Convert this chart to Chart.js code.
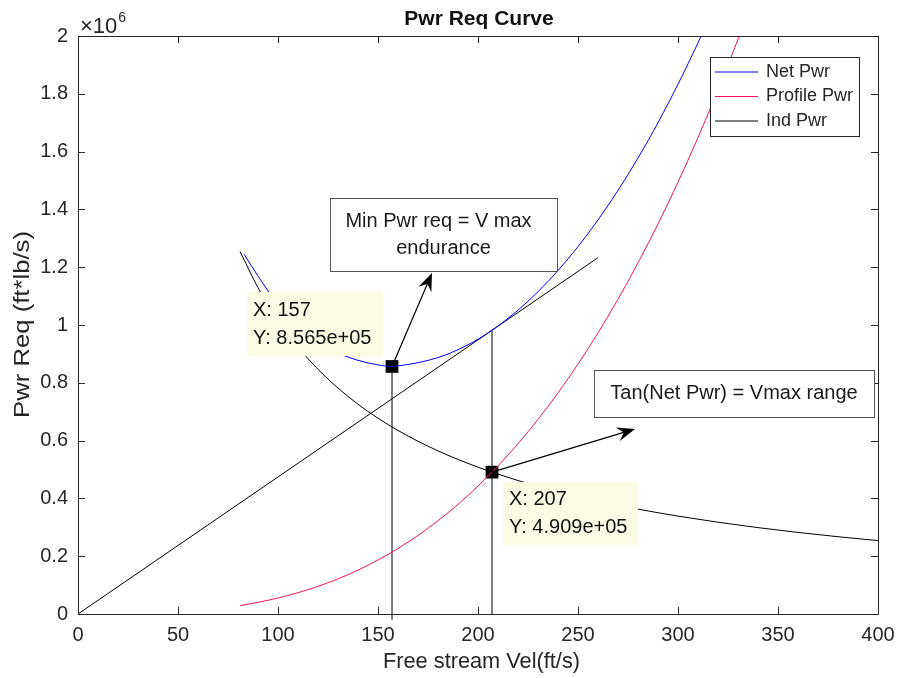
<!DOCTYPE html>
<html><head><meta charset="utf-8">
<script src="https://cdn.jsdelivr.net/npm/chart.js@4.4.0/dist/chart.umd.min.js"></script>
<style>html,body{margin:0;padding:0;background:#fff;}</style>
</head><body>
<canvas id="c" width="899" height="678" style="display:block"></canvas>
<script>
// ---- data ----
const velInd     = [81, 90, 100, 110, 120, 130, 140, 150, 160, 170, 180, 190, 200, 207, 210, 220, 230, 240, 250, 260, 270, 280, 290, 300, 320, 340, 360, 380, 400];
const indPwr     = [1254500, 1129100, 1016200, 923800, 846800, 781700, 725800, 677400, 635100, 597700, 564500, 534800, 508100, 490900, 483900, 461900, 441800, 423400, 406500, 390800, 376400, 362900, 350400, 338700, 317600, 298900, 282300, 267400, 254000];
const velProfile = [81, 90, 100, 110, 120, 130, 140, 150, 160, 170, 180, 190, 200, 207, 210, 220, 230, 240, 250, 260, 270, 280, 290, 300, 310, 320, 330, 340];
const profilePwr = [29400, 40300, 55300, 73700, 95600, 121600, 151900, 186800, 226700, 271900, 322800, 379600, 442800, 490900, 512600, 589300, 673400, 765100, 864800, 972800, 1089400, 1215000, 1349800, 1494300, 1648800, 1813600, 1989000, 2175300];
const velNet     = [83, 90, 100, 110, 120, 130, 140, 150, 157, 160, 170, 180, 190, 200, 207, 210, 220, 230, 240, 250, 260, 270, 280, 290, 300, 310, 320];
const netPwr     = [1245000, 1169400, 1071500, 997400, 942400, 903300, 877700, 862000, 856500, 858500, 869700, 887300, 914400, 950800, 981800, 996400, 1051200, 1115200, 1188500, 1271200, 1363600, 1465700, 1577900, 1700200, 1833100, 1976600, 2131100];
const tanVel     = [0, 260];
const tanPwr     = [0, 1233000];
const markVel    = [157, 207];
const markPwr    = [856500, 490900];
const vline1Vel  = [157, 157];
const vline1Pwr  = [-20000, 856500];
const vline2Vel  = [207, 207];
const vline2Pwr  = [0, 981800];
const xTicks     = [0, 50, 100, 150, 200, 250, 300, 350, 400];
const yTicks     = [0, 0.2, 0.4, 0.6, 0.8, 1, 1.2, 1.4, 1.6, 1.8, 2];
const seriesNames = ['Net Pwr', 'Profile Pwr', 'Ind Pwr'];

// ---- annotations (data units) ----
const textBoxes = [
  {x0: 126, x1: 239.5, y0: 1439000, y1: 1187000, lines: ['Min Pwr req = V max', 'endurance']},
  {x0: 258, x1: 398, y0: 844000, y1: 682000, lines: ['Tan(Net Pwr) = Vmax range']}
];
const dataTips = [
  {x0: 84.5, x1: 152.5, y0: 1114000, y1: 893000, lines: ['X: 157', 'Y: 8.565e+05']},
  {x0: 212.5, x1: 280, y0: 457000, y1: 239000, lines: ['X: 207', 'Y: 4.909e+05']}
];
const arrows = [
  {fx: 157, fy: 856500, tx: 177, ty: 1180000},
  {fx: 207, fy: 490900, tx: 278.5, ty: 640000}
];

const FONT = '"Liberation Sans", Arial, Helvetica, sans-serif';
const AX = '#262626';
const BLUE = 'rgb(0,0,255)';
const RED = 'rgb(235,25,80)';
const BLACK = 'rgb(0,0,0)';

function pts(xs, ys) { return xs.map((x, i) => ({x: x, y: ys[i]})); }

function lineDs(label, xs, ys, color, extra) {
  return Object.assign({
    label: label, data: pts(xs, ys), showLine: true, borderColor: color,
    backgroundColor: color, borderWidth: 1, pointRadius: 0, pointHoverRadius: 0,
    cubicInterpolationMode: 'monotone', fill: false
  }, extra || {});
}

function fitText(ctx, s, x, y, target) {
  const w = ctx.measureText(s).width;
  const k = target / w;
  ctx.save(); ctx.translate(x, y); ctx.scale(k, 1); ctx.fillText(s, 0, 0); ctx.restore();
}

const overlay = {
  id: 'overlay',
  afterDraw(chart) {
    const ctx = chart.ctx, a = chart.chartArea;
    const xs = chart.scales.x, ys = chart.scales.y;
    const px = v => xs.getPixelForValue(v), py = v => ys.getPixelForValue(v);
    ctx.save();
    // frame + inner ticks
    ctx.strokeStyle = AX; ctx.lineWidth = 1;
    ctx.beginPath();
    ctx.rect(Math.round(a.left) + 0.5, Math.round(a.top) + 0.5, Math.round(a.right - a.left), Math.round(a.bottom - a.top));
    const TL = 7;
    xTicks.forEach(t => {
      const x = Math.round(px(t)) + 0.5;
      ctx.moveTo(x, a.bottom); ctx.lineTo(x, a.bottom - TL);
      ctx.moveTo(x, a.top); ctx.lineTo(x, a.top + TL);
    });
    yTicks.forEach(t => {
      const y = Math.round(py(t * 1e6)) + 0.5;
      ctx.moveTo(a.left, y); ctx.lineTo(a.left + TL, y);
      ctx.moveTo(a.right, y); ctx.lineTo(a.right - TL, y);
    });
    ctx.stroke();

    // tick labels
    ctx.fillStyle = AX;
    ctx.font = '20px ' + FONT;
    ctx.textAlign = 'center'; ctx.textBaseline = 'middle';
    xTicks.forEach(t => ctx.fillText(String(t), px(t), a.bottom + 21));
    ctx.textAlign = 'right';
    yTicks.forEach(t => ctx.fillText(String(t), a.left - 10, py(t * 1e6)));

    // title
    ctx.fillStyle = '#111';
    ctx.font = 'bold 21px ' + FONT;
    ctx.textAlign = 'center'; ctx.textBaseline = 'middle';
    ctx.fillText('Pwr Req Curve', (a.left + a.right) / 2 + 1, 19);

    // axis titles
    ctx.fillStyle = AX;
    ctx.font = '22px ' + FONT;
    ctx.textAlign = 'left';
    fitText(ctx, 'Free stream Vel(ft/s)', 383, 662, 197);
    ctx.save();
    ctx.translate(23, 418);
    ctx.rotate(-Math.PI / 2);
    fitText(ctx, 'Pwr Req (ft*lb/s)', 0, 0, 187);
    ctx.restore();

    // exponent label
    ctx.textAlign = 'left'; ctx.textBaseline = 'alphabetic';
    ctx.font = '22px ' + FONT;
    ctx.fillText('\u00d710', a.left + 2, 33);
    const w10 = ctx.measureText('\u00d710').width;
    ctx.font = '14px ' + FONT;
    ctx.fillText('6', a.left + 2 + w10 + 1, 22);

    // text boxes
    textBoxes.forEach(b => {
      const x0 = px(b.x0), x1 = px(b.x1), y0 = py(b.y0), y1 = py(b.y1);
      ctx.fillStyle = '#fff';
      ctx.fillRect(x0, y0, x1 - x0, y1 - y0);
      ctx.strokeStyle = '#555'; ctx.lineWidth = 1;
      ctx.strokeRect(Math.round(x0) + 0.5, Math.round(y0) + 0.5, Math.round(x1 - x0), Math.round(y1 - y0));
      ctx.fillStyle = '#1a1a1a';
      ctx.font = '20px ' + FONT;
      ctx.textAlign = 'center'; ctx.textBaseline = 'middle';
      const lh = 27, n = b.lines.length;
      const cy = (y0 + y1) / 2 - (n - 1) * lh / 2;
      b.lines.forEach((s, i) => ctx.fillText(s, (x0 + x1) / 2 - (n > 1 && i === 0 ? 5 : 0), cy + i * lh));
    });

    // data tips
    dataTips.forEach(b => {
      const x0 = px(b.x0), x1 = px(b.x1), y0 = py(b.y0), y1 = py(b.y1);
      ctx.fillStyle = 'rgb(252,252,228)';
      ctx.fillRect(x0, y0, x1 - x0, y1 - y0);
      ctx.fillStyle = '#111';
      ctx.font = '20px ' + FONT;
      ctx.textAlign = 'left'; ctx.textBaseline = 'middle';
      const lh = 28;
      const cy = (y0 + y1) / 2 - lh / 2;
      b.lines.forEach((s, i) => ctx.fillText(s, x0 + 6, cy + i * lh));
    });

    // arrows
    arrows.forEach(r => {
      const x0 = px(r.fx), y0 = py(r.fy), x1 = px(r.tx), y1 = py(r.ty);
      const dx = x1 - x0, dy = y1 - y0, len = Math.hypot(dx, dy);
      const ux = dx / len, uy = dy / len, nx = -uy, ny = ux;
      const L = 18, W = 7;
      ctx.strokeStyle = '#000'; ctx.lineWidth = 1.2;
      ctx.beginPath(); ctx.moveTo(x0, y0); ctx.lineTo(x1 - ux * L * 0.6, y1 - uy * L * 0.6); ctx.stroke();
      ctx.fillStyle = '#000';
      ctx.beginPath();
      ctx.moveTo(x1, y1);
      ctx.lineTo(x1 - ux * L + nx * W, y1 - uy * L + ny * W);
      ctx.lineTo(x1 - ux * L * 0.65, y1 - uy * L * 0.65);
      ctx.lineTo(x1 - ux * L - nx * W, y1 - uy * L - ny * W);
      ctx.closePath(); ctx.fill();
    });

    // legend
    const lx = 710, ly = 57, lw = 149, lhh = 79;
    ctx.fillStyle = '#fff'; ctx.fillRect(lx, ly, lw, lhh);
    ctx.strokeStyle = AX; ctx.lineWidth = 1;
    ctx.strokeRect(lx + 0.5, ly + 0.5, lw, lhh);
    ctx.font = '18px ' + FONT; ctx.textAlign = 'left'; ctx.textBaseline = 'middle';
    seriesNames.forEach((name, i) => {
      const ds = chart.data.datasets[i];
      const y = ly + 15 + i * 24.5;
      ctx.strokeStyle = ds.borderColor; ctx.lineWidth = 1.2;
      ctx.beginPath(); ctx.moveTo(lx + 5, y); ctx.lineTo(lx + 48, y); ctx.stroke();
      ctx.fillStyle = AX;
      ctx.fillText(name, lx + 56, y);
    });
    ctx.restore();
  }
};

new Chart(document.getElementById('c'), {
  type: 'scatter',
  data: {
    datasets: [
      lineDs(seriesNames[0], velNet, netPwr, BLUE),
      lineDs(seriesNames[1], velProfile, profilePwr, RED),
      lineDs(seriesNames[2], velInd, indPwr, BLACK),
      lineDs('tangent', tanVel, tanPwr, BLACK, {cubicInterpolationMode: 'default', tension: 0}),
      lineDs('v1', vline1Vel, vline1Pwr, BLACK, {cubicInterpolationMode: 'default', tension: 0, clip: false}),
      lineDs('v2', vline2Vel, vline2Pwr, BLACK, {cubicInterpolationMode: 'default', tension: 0}),
      {label: 'markers', data: pts(markVel, markPwr), showLine: false, pointStyle: 'rect',
       pointRadius: 9, pointHoverRadius: 9, backgroundColor: '#000', borderColor: '#000', borderWidth: 0}
    ]
  },
  options: {
    responsive: false, animation: false, devicePixelRatio: 1,
    layout: {padding: {top: 36, right: 21, left: 0, bottom: 0}},
    plugins: {legend: {display: false}, title: {display: false}, tooltip: {enabled: false}},
    events: [],
    scales: {
      x: {
        type: 'linear', min: 0, max: 400,
        afterBuildTicks: s => { s.ticks = xTicks.map(v => ({value: v})); },
        afterFit: s => { s.height = 64; },
        grid: {display: false}, border: {display: false},
        ticks: {display: false}
      },
      y: {
        type: 'linear', min: 0, max: 2000000,
        afterBuildTicks: s => { s.ticks = yTicks.map(v => ({value: v * 1e6})); },
        afterFit: s => { s.width = 78; },
        grid: {display: false}, border: {display: false},
        ticks: {display: false}
      }
    }
  },
  plugins: [overlay]
});
</script>
</body></html>
